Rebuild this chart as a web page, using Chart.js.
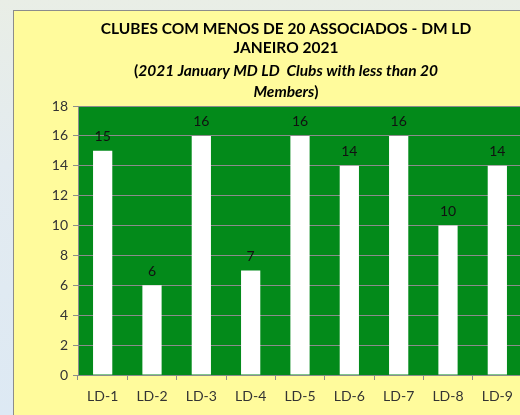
<!DOCTYPE html>
<html><head><meta charset="utf-8">
<script src="https://cdn.jsdelivr.net/npm/chart.js@4"></script>
<style>
html,body{margin:0;padding:0;width:520px;height:415px;overflow:hidden;}
body{position:relative;background:linear-gradient(180deg,#e9eee6 0%,#e3ebf0 40%,#dde9f4 100%);}
#frame{position:absolute;left:13px;top:10px;width:562px;height:420px;background:#fffb9c;border:1px solid #8c8c8c;box-sizing:border-box;}
#c{position:absolute;left:0;top:0;}
</style></head>
<body>
<div id="frame"><canvas id="c" width="544" height="404"></canvas></div>
<script>
const categories = ['LD-1','LD-2','LD-3','LD-4','LD-5','LD-6','LD-7','LD-8','LD-9'];
const values = [15, 6, 16, 7, 16, 14, 16, 10, 14];
const yTicks = [0, 2, 4, 6, 8, 10, 12, 14, 16, 18];
const titleLines = [
  [{t:'CLUBES COM MENOS DE 20 ASSOCIADOS - DM LD', i:false}],
  [{t:'JANEIRO 2021', i:false}],
  [{t:'(', i:false},{t:'2021 January MD LD  Clubs with less than 20', i:true}],
  [{t:'Members', i:true},{t:')', i:false}]
];

const FONT = 'Lato, "Open Sans", sans-serif';

const plotBg = {
  id:'plotBg',
  beforeDraw(chart){
    const {ctx, chartArea:a} = chart;
    ctx.save();
    ctx.fillStyle = '#038a1a';
    ctx.fillRect(a.left, a.top, a.right - a.left, a.bottom - a.top);
    ctx.restore();
  }
};

const titlePlugin = {
  id:'titlePlugin',
  afterDraw(chart){
    const ctx = chart.ctx;
    const cx = 272;
    const ys = [18, 37, 60, 81];
    const size = 15.5;
    ctx.save();
    ctx.fillStyle = '#000';
    ctx.textBaseline = 'middle';
    ctx.textAlign = 'left';
    titleLines.forEach((line, li) => {
      let w = 0;
      line.forEach(s => { ctx.font = (s.i?'italic ':'') + 'bold ' + size + 'px ' + FONT; s.w = ctx.measureText(s.t).width; w += s.w; });
      let x = cx - w/2;
      line.forEach(s => { ctx.font = (s.i?'italic ':'') + 'bold ' + size + 'px ' + FONT; ctx.fillText(s.t, x, ys[li]); x += s.w; });
    });
    ctx.restore();
  }
};

const dataLabels = {
  id:'dataLabels',
  afterDatasetsDraw(chart){
    const ctx = chart.ctx;
    const meta = chart.getDatasetMeta(0);
    ctx.save();
    ctx.font = '14px ' + FONT;
    ctx.fillStyle = '#111';
    ctx.textAlign = 'center';
    ctx.textBaseline = 'middle';
    meta.data.forEach((bar, i) => {
      ctx.fillText(String(values[i]), bar.x, bar.y - 14);
    });
    ctx.restore();
  }
};

new Chart(document.getElementById('c'), {
  type:'bar',
  data:{ labels: categories, datasets:[{ data: values, backgroundColor:'#ffffff', borderWidth:0, categoryPercentage:1, barPercentage:0.39 }] },
  options:{
    responsive:false,
    animation:false,
    layout:{ padding:{ top:95, right:36, left:0, bottom:0 } },
    plugins:{ legend:{display:false}, title:{display:false}, tooltip:{enabled:false} },
    scales:{
      x:{
        grid:{ display:true, drawOnChartArea:false, drawTicks:true, tickLength:5, color:'#8c8c8c', offset:true },
        border:{ display:true, color:'#8c8c8c', width:1 },
        ticks:{ color:'#333', font:{ family:FONT, size:14 }, padding:8, maxRotation:0 },
        afterFit(s){ s.height = 40; }
      },
      y:{
        min:0, max:18,
        afterBuildTicks(s){ s.ticks = yTicks.map(v => ({value:v})); },
        grid:{ color:'#8c8c8c', lineWidth:1, tickLength:5 },
        border:{ display:true, color:'#8c8c8c', width:1 },
        ticks:{ color:'#333', font:{ family:FONT, size:14 }, padding:5 },
        afterFit(s){ s.width = 64; }
      }
    }
  },
  plugins:[plotBg, titlePlugin, dataLabels]
});
</script>
</body></html>
